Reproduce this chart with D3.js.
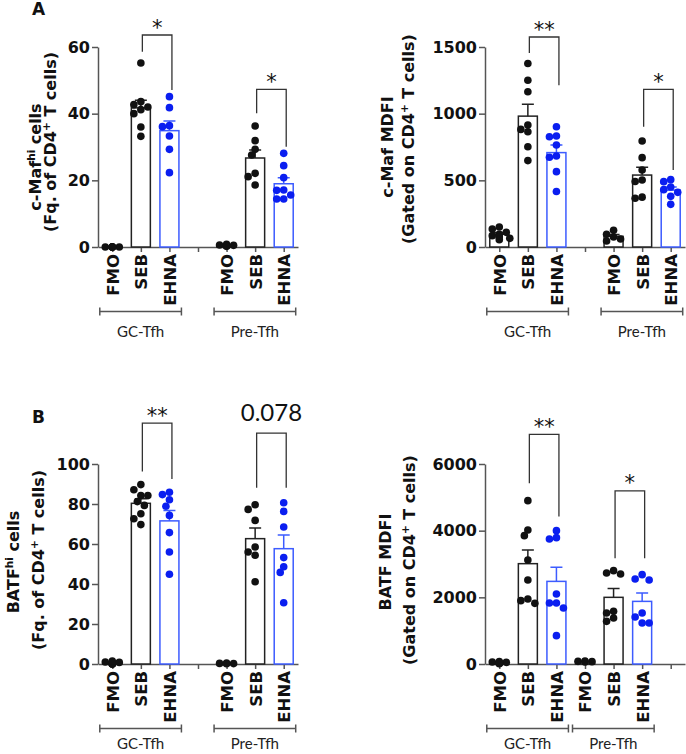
<!DOCTYPE html>
<html>
<head>
<meta charset="utf-8">
<script src="https://cdn.jsdelivr.net/npm/d3@7"></script>
<style>
  body { margin: 0; background: #fff; }
  svg { display: block; }
</style>
</head>
<body>
<script>
var width = 686;
var height = 754;

// categories
var conditions = ["FMO", "SEB", "EHNA"];
var groups = ["GC-Tfh", "Pre-Tfh"];

// per-animal values, bar order: GC FMO, GC SEB, GC EHNA, Pre FMO, Pre SEB, Pre EHNA
var cmafHi = [
  [0, 0, 0, 0, 0, 0, 0],
  [55.2, 43.6, 42.7, 42, 41.2, 40, 36, 33.2],
  [45.1, 41.8, 36.4, 36.1, 33.3, 29.3, 22.3],
  [0.3, 0.8, 0.5, 0.2, 0.6],
  [36.3, 31.9, 29.3, 27.6, 22.1, 21.1, 18.6],
  [28.1, 24.4, 20.8, 17.1, 17, 15.6, 14.4, 14.4]
];
var cmafMdfi = [
  [150, 135, 110, 95, 85, 75, 65, 55],
  [1376, 1251, 1164, 915, 882, 864, 752, 648],
  [902, 827, 832, 765, 673, 683, 565, 416],
  [125, 95, 75, 60, 45],
  [795, 670, 578, 503, 491, 366, 374],
  [505, 490, 450, 430, 410, 380, 320]
];
var batfHi = [
  [0, 0, 0.5, 1, 0, 0.3, 0.8, 1.5],
  [89.7, 87.1, 84.2, 84.2, 81.2, 79.3, 75.1, 72.6, 69.7],
  [85.9, 84.7, 82.1, 78.9, 74.3, 65.7, 56, 44.9],
  [0.2, 0.5, 0.3, 0.1],
  [79.6, 77.3, 71.8, 58.5, 56, 54.4, 41.1],
  [80.6, 76.3, 68.5, 53.2, 48.6, 45.8, 30.6]
];
var batfMdfi = [
  [50, 30, 20, 60, 40, 10, 70],
  [4900, 4020, 3850, 3120, 2520, 1950, 1900, 1820],
  [4000, 3790, 3750, 2100, 1830, 1830, 1680, 850],
  [90, 70, 80, 60],
  [2800, 2730, 2700, 1580, 1530, 1380, 1280],
  [2680, 2550, 2520, 1530, 1410, 1230, 1230]
];

// tick labels
var cmafHiTicks = [0, 20, 40, 60];
var cmafMdfiTicks = [0, 500, 1000, 1500];
var batfHiTicks = [0, 20, 40, 60, 80, 100];
var batfMdfiTicks = [0, 2000, 4000, 6000];

// significance labels (bar index pairs, bracket heights in data units)
var cmafHiSig = [
  { a: 1, b: 2, top: 63.6, left: 58.6, right: 47.1, label: "*" },
  { a: 4, b: 5, top: 47.3, left: 40.1, right: 30.1, label: "*" }
];
var cmafMdfiSig = [
  { a: 1, b: 2, top: 1575, left: 1455, right: 1214, label: "**" },
  { a: 4, b: 5, top: 1182, left: 902, right: 578, label: "*" }
];
var batfHiSig = [
  { a: 1, b: 2, top: 120.4, left: 96.3, right: 92.5, label: "**" },
  { a: 4, b: 5, top: 115.4, left: 88.1, right: 88.1, label: "0.078" }
];
var batfMdfiSig = [
  { a: 1, b: 2, top: 6890, left: 5422, right: 4422, label: "**" },
  { a: 4, b: 5, top: 5192, left: 3175, right: 3175, label: "*" }
];

var black = "#111";
var blue = "#0a1ef0";
var blueLine = "#3d5cff";
var axisGrey = "#555";

var panels = [
  { letter: "A", data: cmafHi, ticks: cmafHiTicks, sig: cmafHiSig, ax: 98, y0: 247, y1: 47, gap: 3,
    title: [{ parts: ["c-Maf", "hi", " cells"], x: 41, y: 157 }, { parts: ["(Fq. of CD4", "+", " T cells)"], x: 56, y: 142 }] },
  { letter: "", data: cmafMdfi, ticks: cmafMdfiTicks, sig: cmafMdfiSig, ax: 485, y0: 247, y1: 47, gap: 3,
    title: [{ parts: ["c-Maf MDFI"], x: 393, y: 147 }, { parts: ["(Gated on CD4", "+", " T cells)"], x: 414, y: 139 }] },
  { letter: "B", data: batfHi, ticks: batfHiTicks, sig: batfHiSig, ax: 98, y0: 664, y1: 464, gap: 3,
    title: [{ parts: ["BATF", "hi", " cells"], x: 19, y: 562 }, { parts: ["(Fq. of CD4", "+", " T cells)"], x: 44, y: 560 }] },
  { letter: "", data: batfMdfi, ticks: batfMdfiTicks, sig: batfMdfiSig, ax: 485, y0: 664, y1: 464, gap: 6,
    title: [{ parts: ["BATF MDFI"], x: 391, y: 562 }, { parts: ["(Gated on CD4", "+", " T cells)"], x: 415, y: 560 }] }
];

var svg = d3.select("body").append("svg")
  .attr("width", width)
  .attr("height", height);

// spreads dots sideways so they do not sit on top of each other
function swarm(values, y, r) {
  var order = values.map(function(v, i) { return i; })
    .sort(function(a, b) { return values[b] - values[a]; });
  var placed = [];
  var offs = [0, -3.5, 3.5, -7, 7, -10.5, 10.5, -5, 5, -9, 9];
  var out = new Array(values.length);
  order.forEach(function(i) {
    var py = y(values[i]);
    var best = 0;
    for (var k = 0; k < offs.length; k++) {
      var ok = placed.every(function(p) {
        var dx = p.x - offs[k], dy = p.y - py;
        return dx * dx + dy * dy >= (1.7 * r) * (1.7 * r);
      });
      if (ok) { best = offs[k]; break; }
    }
    placed.push({ x: best, y: py });
    out[i] = best;
  });
  return out;
}

panels.forEach(function(p) {
  var g = svg.append("g");
  var max = p.ticks[p.ticks.length - 1];
  var y = d3.scaleLinear().domain([0, max]).range([p.y0, p.y1]);

  // slots: 6 bars plus one empty slot
  var slots = [];
  var barSlot = [];
  var bi = 0;
  for (var s = 0; s < 7; s++) {
    if (s === p.gap) { slots.push("gap"); continue; }
    var key = groups[Math.floor(bi / 3)] + " " + conditions[bi % 3];
    slots.push(key);
    barSlot.push(key);
    bi++;
  }
  var x = d3.scalePoint().domain(slots).range([p.ax, p.ax + 200]).padding(0.5);
  var bw = 19;

  // y axis
  var yAxis = g.append("g")
    .attr("transform", "translate(" + p.ax + ",0)")
    .call(d3.axisLeft(y).tickValues(p.ticks).tickSize(6).tickSizeOuter(0).tickFormat(d3.format("d")));
  yAxis.select(".domain").attr("stroke", axisGrey).attr("stroke-width", 1.5);
  yAxis.selectAll(".tick line").attr("stroke", axisGrey).attr("stroke-width", 1.5);
  yAxis.selectAll(".tick text")
    .attr("x", -8)
    .attr("fill", "#111")
    .style("font-family", "DejaVu Sans")
    .style("font-weight", "bold")
    .style("font-size", "16px");

  // x axis
  var xAxis = g.append("g")
    .attr("transform", "translate(0," + p.y0 + ")")
    .call(d3.axisBottom(x).tickSize(5).tickSizeOuter(0).tickFormat(function(d) {
      return d === "gap" ? "" : d.split(" ")[1];
    }));
  xAxis.select(".domain").attr("stroke", axisGrey).attr("stroke-width", 1.5);
  xAxis.selectAll(".tick line").attr("stroke", axisGrey).attr("stroke-width", 1.5);
  xAxis.selectAll(".tick text")
    .attr("transform", "rotate(-90)")
    .attr("x", -7)
    .attr("y", 0)
    .attr("dy", "0.36em")
    .attr("text-anchor", "end")
    .attr("fill", "#111")
    .style("font-family", "DejaVu Sans")
    .style("font-weight", "bold")
    .style("font-size", "16.5px");

  // bars, error bars and dots
  p.data.forEach(function(vals, i) {
    var cx = x(barSlot[i]);
    var isBlue = (i % 3) === 2;
    var mean = d3.mean(vals);
    var sem = d3.deviation(vals) / Math.sqrt(vals.length);

    g.append("rect")
      .attr("x", cx - bw / 2)
      .attr("y", y(mean))
      .attr("width", bw)
      .attr("height", p.y0 - y(mean))
      .attr("fill", "#fff")
      .attr("stroke", isBlue ? blueLine : "#222")
      .attr("stroke-width", 1.5);

    if (sem * (p.y0 - p.y1) / max > 1) {
      g.append("path")
        .attr("d", "M" + cx + "," + y(mean) + "V" + y(mean + sem) + "M" + (cx - 6) + "," + y(mean + sem) + "H" + (cx + 6))
        .attr("fill", "none")
        .attr("stroke", isBlue ? blueLine : "#222")
        .attr("stroke-width", 1.5);
    }

    var r = 3.8;
    var offs = swarm(vals, y, r);
    g.selectAll(null).data(vals).enter().append("circle")
      .attr("cx", function(d, k) { return cx + offs[k]; })
      .attr("cy", function(d) { return y(d); })
      .attr("r", r)
      .attr("fill", isBlue ? blue : black);
  });

  // significance brackets
  p.sig.forEach(function(s) {
    var xa = x(barSlot[s.a]) + 1.5;
    var xb = x(barSlot[s.b]) + 2.5;
    var yt = y(s.top);
    g.append("path")
      .attr("d", "M" + xa + "," + y(s.left) + "V" + yt + "H" + xb + "V" + y(s.right))
      .attr("fill", "none")
      .attr("stroke", "#333")
      .attr("stroke-width", 1.3);
    var num = s.label.indexOf("*") < 0;
    g.append("text")
      .attr("x", (xa + xb) / 2)
      .attr("y", num ? yt - 12.5 : yt - 0.5)
      .attr("text-anchor", "middle")
      .attr("fill", "#111")
      .style("font-family", num ? "Lato" : "DejaVu Sans")
      .style("font-size", num ? "24px" : "21px")
      .text(s.label);
  });

  // group brackets under the categories
  groups.forEach(function(gr, k) {
    var x1 = x(barSlot[k * 3]) - 12.5;
    var x2 = x(barSlot[k * 3 + 2]) + 12;
    var by = p.y0 + 64.5;
    g.append("path")
      .attr("d", "M" + x1 + "," + (by - 4) + "V" + (by + 4) + "M" + x1 + "," + by + "H" + x2 +
        "M" + x2 + "," + (by - 4) + "V" + (by + 4))
      .attr("fill", "none")
      .attr("stroke", axisGrey)
      .attr("stroke-width", 1.5);
    g.append("text")
      .attr("x", (x1 + x2) / 2)
      .attr("y", Math.min(by + 25, 749))
      .attr("text-anchor", "middle")
      .attr("fill", "#222")
      .style("font-family", "Lato")
      .style("font-size", "15px")
      .text(gr);
  });

  // y axis titles, two rotated lines
  p.title.forEach(function(t) {
    var txt = g.append("text")
      .attr("transform", "translate(" + t.x + "," + t.y + ") rotate(-90)")
      .attr("text-anchor", "middle")
      .attr("fill", "#111")
      .style("font-family", "DejaVu Sans")
      .style("font-weight", "bold")
      .style("font-size", "16px");
    t.parts.forEach(function(part, k) {
      var sp = txt.append("tspan").text(part);
      if (k === 1) sp.attr("dy", -6).style("font-size", "10.5px");
      if (k === 2) sp.attr("dy", 6);
    });
  });

  if (p.letter) {
    svg.append("text")
      .attr("x", 32)
      .attr("y", p.y0 === 247 ? 15 : 423)
      .attr("fill", "#111")
      .style("font-family", "DejaVu Sans")
      .style("font-weight", "bold")
      .style("font-size", "17px")
      .text(p.letter);
  }
});
</script>
</body>
</html>
